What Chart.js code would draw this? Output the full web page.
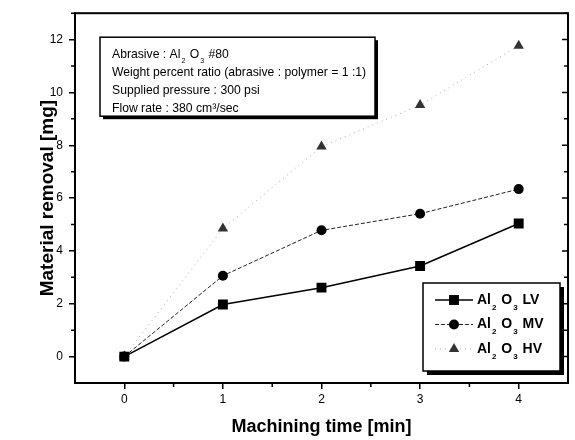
<!DOCTYPE html>
<html>
<head>
<meta charset="utf-8">
<title>Material removal vs machining time</title>
<script src="https://cdn.jsdelivr.net/npm/chart.js@4.4.1/dist/chart.umd.min.js"></script>
<style>
  body { margin: 0; background: #fff; }
  #wrap { width: 575px; height: 440px; }
</style>
</head>
<body>
<div id="wrap"><canvas id="chart" width="575" height="440"></canvas></div>
<script>
// machining time [min]
var times = [0, 1, 2, 3, 4];
// material removal [mg]
var lvValues = [0, 1.97, 2.61, 3.43, 5.04];
var mvValues = [0, 3.06, 4.78, 5.41, 6.34];
var hvValues = [0, 4.85, 7.95, 9.52, 11.77];
var xTicks = [0, 1, 2, 3, 4];
var yTicks = [0, 2, 4, 6, 8, 10, 12];
var infoLines = [
    [['Abrasive : Al', 0], ['2', 1], [' O', 0], ['3', 1], [' #80', 0]],
    [['Weight percent ratio (abrasive : polymer = 1 :1)', 0]],
    [['Supplied pressure : 300 psi', 0]],
    [['Flow rate : 380 cm\u00B3/sec', 0]]
];
var FONT = '"Liberation Sans", Arial, sans-serif';

var pts = (vals) => times.map((t, i) => ({x: t, y: vals[i]}));

var datasets = [
    {
        label: 'Al2O3 LV', sub: 'LV',
        data: pts(lvValues),
        borderColor: '#000', backgroundColor: '#000',
        borderWidth: 1.5, pointStyle: 'rect', pointRadius: 7, pointBorderWidth: 0
    },
    {
        label: 'Al2O3 MV', sub: 'MV',
        data: pts(mvValues),
        borderColor: '#222', backgroundColor: '#000',
        borderWidth: 1, borderDash: [4, 2], pointStyle: 'circle', pointRadius: 5, pointBorderWidth: 0
    },
    {
        label: 'Al2O3 HV', sub: 'HV',
        data: pts(hvValues),
        borderColor: '#aaa', backgroundColor: '#333',
        borderWidth: 1, borderDash: [1, 4], pointStyle: 'triangle', pointRadius: 6, pointBorderWidth: 0
    }
];

// text with subscripts, parts = [[text, isSub], ...]
function drawRich(ctx, parts, x, y, size, bold) {
    var w = bold ? 'bold ' : '';
    ctx.textBaseline = 'middle';
    ctx.textAlign = 'left';
    parts.forEach((p) => {
        if (p[1]) {
            ctx.font = w + Math.round(size * 0.6) + 'px ' + FONT;
            ctx.fillText(p[0], x + 1, y + size * 0.55);
            x += ctx.measureText(p[0]).width + 2;
        } else {
            ctx.font = w + size + 'px ' + FONT;
            ctx.fillText(p[0], x, y);
            x += ctx.measureText(p[0]).width;
        }
    });
}

function shadowBox(ctx, x, y, w, h, sh) {
    ctx.fillStyle = '#000';
    ctx.fillRect(x + sh, y + sh, w, h);
    ctx.fillStyle = '#fff';
    ctx.fillRect(x, y, w, h);
    ctx.strokeStyle = '#000';
    ctx.lineWidth = 1.5;
    ctx.strokeRect(x, y, w, h);
}

var decor = {
    id: 'decor',
    afterDraw(chart) {
        var ctx = chart.ctx;
        var a = chart.chartArea;
        var xs = chart.scales.x, ys = chart.scales.y;
        ctx.save();
        // frame
        ctx.strokeStyle = '#000';
        ctx.lineWidth = 2;
        ctx.strokeRect(a.left, a.top, a.right - a.left, a.bottom - a.top);
        // minor ticks + right side ticks
        ctx.lineWidth = 1.5;
        ctx.beginPath();
        for (var i = 0; i < xTicks.length; i++) {
            var px = xs.getPixelForValue(xTicks[i] + 0.5);
            if (px < a.right - 2) { ctx.moveTo(px, a.bottom); ctx.lineTo(px, a.bottom + 4); }
        }
        for (var j = 0; j < yTicks.length; j++) {
            var py = ys.getPixelForValue(yTicks[j]);
            ctx.moveTo(a.right, py); ctx.lineTo(a.right - 6, py);
            var pm = ys.getPixelForValue(yTicks[j] + 1);
            ctx.moveTo(a.left, pm); ctx.lineTo(a.left - 4, pm);
            ctx.moveTo(a.right, pm); ctx.lineTo(a.right - 4, pm);
        }
        ctx.stroke();

        // info box
        var bx = a.left + 25, by = a.top + 24;
        shadowBox(ctx, bx, by, 275, 79, 3);
        ctx.fillStyle = '#000';
        infoLines.forEach((ln, k) => drawRich(ctx, ln, bx + 12, by + 17 + k * 18.3, 12.2, false));

        // legend
        var lx = a.right - 145, ly = a.bottom - 100;
        shadowBox(ctx, lx, ly, 137, 88, 4);
        chart.data.datasets.forEach((ds, k) => {
            var ry = ly + 17 + k * 24.5;
            ctx.save();
            ctx.strokeStyle = ds.borderColor;
            ctx.lineWidth = ds.borderWidth;
            ctx.setLineDash(ds.borderDash || []);
            ctx.beginPath();
            ctx.moveTo(lx + 12, ry); ctx.lineTo(lx + 50, ry);
            ctx.stroke();
            ctx.restore();
            ctx.fillStyle = ds.backgroundColor;
            Chart.helpers.drawPoint(ctx, {pointStyle: ds.pointStyle, radius: ds.pointRadius, borderWidth: 0}, lx + 31, ry);
            ctx.fillStyle = '#000';
            drawRich(ctx, [['Al', 0], ['2', 1], [' O', 0], ['3', 1], [' ' + ds.sub, 0]], lx + 54, ry, 14, true);
        });
        ctx.restore();
    }
};

new Chart(document.getElementById('chart'), {
    type: 'line',
    data: {datasets: datasets},
    plugins: [decor],
    options: {
        responsive: false,
        animation: false,
        layout: {padding: {top: 9, right: 7, left: 0, bottom: 0}},
        plugins: {legend: {display: false}, tooltip: {enabled: false}},
        scales: {
            x: {
                type: 'linear', min: -0.5, max: 4.5,
                afterBuildTicks: (s) => { s.ticks = xTicks.map((v) => ({value: v})); },
                afterFit: (s) => { s.height = 57; },
                border: {display: true, color: '#000', width: 2},
                grid: {drawOnChartArea: false, drawTicks: true, tickLength: 6, color: '#000', lineWidth: 1.5},
                ticks: {color: '#000', padding: 3, font: {family: FONT, size: 12}},
                title: {display: true, text: 'Machining time [min]', color: '#000',
                        font: {family: FONT, size: 18, weight: 'bold'}, padding: {top: 0, bottom: 2}}
            },
            y: {
                type: 'linear', min: -1, max: 13,
                afterBuildTicks: (s) => { s.ticks = yTicks.map((v) => ({value: v})); },
                afterFit: (s) => { s.width = 75; },
                border: {display: true, color: '#000', width: 2},
                grid: {drawOnChartArea: false, drawTicks: true, tickLength: 6, color: '#000', lineWidth: 1.5},
                ticks: {color: '#000', padding: 6, font: {family: FONT, size: 12}},
                title: {display: true, text: 'Material removal [mg]', color: '#000',
                        font: {family: FONT, size: 19, weight: 'bold'}, padding: {top: 36, bottom: 0}}
            }
        }
    }
});
</script>
</body>
</html>
